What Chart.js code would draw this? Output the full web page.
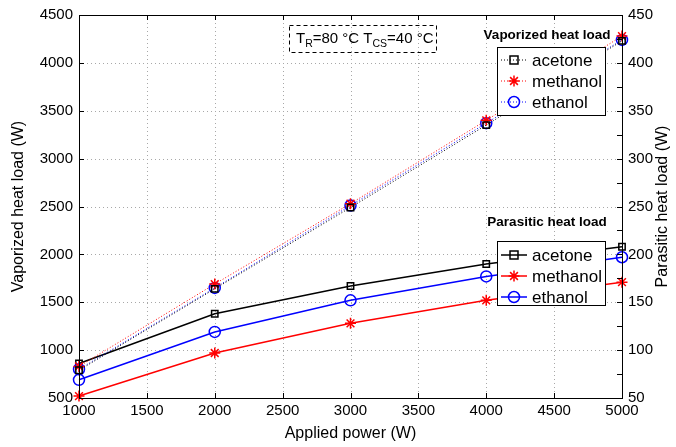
<!DOCTYPE html>
<html>
<head>
<meta charset="utf-8">
<script src="https://cdn.jsdelivr.net/npm/chart.js@4.4.1/dist/chart.umd.min.js"></script>
<style>
  html, body { margin: 0; padding: 0; background: #fff; }
  #wrap { width: 676px; height: 447px; }
</style>
</head>
<body>
<div id="wrap"><canvas id="c" width="676" height="447"></canvas></div>
<script>
// data
const power = [1000, 2000, 3000, 4000, 5000];

// vaporized heat load (left axis, W)
const vapAcetone  = [790, 1640, 2490, 3350, 4230];
const vapMethanol = [830, 1690, 2530, 3400, 4280];
const vapEthanol  = [800, 1650, 2510, 3370, 4240];

// parasitic heat load (right axis, W)
const parAcetone  = [86, 138, 167, 190, 208];
const parMethanol = [52, 97, 128, 152, 171];
const parEthanol  = [69, 119, 152, 177, 197];

const FONT = '"Liberation Sans", Arial, Helvetica, sans-serif';

const pts = arr => arr.map((v, i) => ({ x: power[i], y: v }));

const styles = {
  acetone:  { color: '#000000', point: 'rect',   radius: 4.5 },
  methanol: { color: '#ff0000', point: 'star',   radius: 5.5 },
  ethanol:  { color: '#0000ff', point: 'circle', radius: 5.5 }
};

function ds(label, data, axis, dotted) {
  const s = styles[label];
  return {
    label,
    data: pts(data),
    yAxisID: axis,
    borderColor: s.color,
    backgroundColor: 'transparent',
    borderWidth: dotted ? 1 : 1.5,
    borderDash: dotted ? [1, 2] : [],
    pointStyle: s.point,
    pointRadius: s.radius,
    pointBorderColor: s.color,
    pointBackgroundColor: 'transparent',
    pointBorderWidth: 1.5,
    tension: 0,
    clip: false
  };
}

// dotted grid behind the data
const grid = {
  id: 'grid',
  beforeDatasetsDraw(chart) {
    const { ctx, chartArea: a } = chart;
    const x = chart.scales.x, y = chart.scales.y;
    ctx.save();
    ctx.strokeStyle = '#a8a8a8';
    ctx.lineWidth = 1;
    ctx.setLineDash([1, 3]);
    ctx.beginPath();
    x.ticks.forEach(t => {
      const px = Math.round(x.getPixelForValue(t.value)) + 0.5;
      ctx.moveTo(px, a.top); ctx.lineTo(px, a.bottom);
    });
    y.ticks.forEach(t => {
      const py = Math.round(y.getPixelForValue(t.value)) + 0.5;
      ctx.moveTo(a.left, py); ctx.lineTo(a.right, py);
    });
    ctx.stroke();
    ctx.restore();
  }
};

// draws box, inner ticks, right title, annotation and the two legends
const decorations = {
  id: 'decorations',
  afterDraw(chart) {
    const { ctx, chartArea: a } = chart;
    const x = chart.scales.x, y = chart.scales.y, y2 = chart.scales.y2;
    ctx.save();
    ctx.strokeStyle = '#000';
    ctx.lineWidth = 1;
    ctx.setLineDash([]);
    ctx.strokeRect(a.left + 0.5, a.top + 0.5, a.right - a.left, a.bottom - a.top);

    ctx.beginPath();
    x.ticks.forEach(t => {
      const px = Math.round(x.getPixelForValue(t.value)) + 0.5;
      ctx.moveTo(px, a.bottom); ctx.lineTo(px, a.bottom - 5);
      ctx.moveTo(px, a.top); ctx.lineTo(px, a.top + 5);
    });
    y.ticks.forEach(t => {
      const py = Math.round(y.getPixelForValue(t.value)) + 0.5;
      ctx.moveTo(a.left, py); ctx.lineTo(a.left + 5, py);
    });
    y2.ticks.forEach(t => {
      const py = Math.round(y2.getPixelForValue(t.value)) + 0.5;
      ctx.moveTo(a.right, py); ctx.lineTo(a.right - 5, py);
    });
    ctx.stroke();

    // right axis title, reading bottom to top
    ctx.save();
    ctx.translate(663, (a.top + a.bottom) / 2);
    ctx.rotate(-Math.PI / 2);
    ctx.font = '16px ' + FONT;
    ctx.fillStyle = '#000';
    ctx.textAlign = 'center';
    ctx.textBaseline = 'middle';
    ctx.fillText('Parasitic heat load (W)', 0, 0);
    ctx.restore();

    // annotation box
    ctx.setLineDash([4, 3]);
    ctx.strokeRect(289.5, 25.5, 147, 27);
    ctx.setLineDash([]);
    ctx.fillStyle = '#000';
    ctx.textAlign = 'left';
    ctx.textBaseline = 'alphabetic';
    let cx = 296;
    const base = 43;
    const part = (txt, size, dy) => {
      ctx.font = size + 'px ' + FONT;
      ctx.fillText(txt, cx, base + dy);
      cx += ctx.measureText(txt).width;
    };
    part('T', 15, 0); part('R', 10.5, 4); part('=80 °C T', 15, 0); part('CS', 10.5, 4); part('=40 °C', 15, 0);

    drawLegend(ctx, 'Vaporized heat load', 35, { left: 497, top: 47, right: 605, bottom: 115 }, [60, 81, 102], true);
    drawLegend(ctx, 'Parasitic heat load', 222, { left: 497, top: 241, right: 605, bottom: 305 }, [255, 276, 297], false);
    ctx.restore();
  }
};

function marker(ctx, style, cx, cy) {
  const s = styles[style];
  ctx.strokeStyle = s.color;
  ctx.lineWidth = 1.5;
  ctx.setLineDash([]);
  ctx.beginPath();
  if (style === 'acetone') {
    ctx.rect(cx - 4, cy - 4, 8, 8);
  } else if (style === 'ethanol') {
    ctx.arc(cx, cy, 5.5, 0, Math.PI * 2);
  } else {
    const r = 5.5;
    for (let k = 0; k < 4; k++) {
      const ang = k * Math.PI / 4;
      ctx.moveTo(cx - r * Math.cos(ang), cy - r * Math.sin(ang));
      ctx.lineTo(cx + r * Math.cos(ang), cy + r * Math.sin(ang));
    }
  }
  ctx.stroke();
}

function drawLegend(ctx, title, titleY, box, rows, dotted) {
  ctx.font = 'bold 13.5px ' + FONT;
  ctx.textAlign = 'center';
  ctx.textBaseline = 'middle';
  ctx.fillStyle = '#000';
  ctx.fillText(title, 547, titleY);

  ctx.fillStyle = '#fff';
  ctx.fillRect(box.left, box.top, box.right - box.left, box.bottom - box.top);
  ctx.strokeStyle = '#000';
  ctx.lineWidth = 1;
  ctx.strokeRect(box.left + 0.5, box.top + 0.5, box.right - box.left, box.bottom - box.top);

  ['acetone', 'methanol', 'ethanol'].forEach((name, i) => {
    const ry = rows[i];
    ctx.strokeStyle = styles[name].color;
    ctx.lineWidth = dotted ? 1 : 1.5;
    ctx.setLineDash(dotted ? [1, 2] : []);
    ctx.beginPath();
    ctx.moveTo(501, ry); ctx.lineTo(527, ry);
    ctx.stroke();
    marker(ctx, name, 514, ry);
    ctx.fillStyle = '#000';
    ctx.font = '17px ' + FONT;
    ctx.textAlign = 'left';
    ctx.fillText(name, 532, ry + 1);
  });
}

new Chart(document.getElementById('c'), {
  type: 'line',
  data: {
    datasets: [
      ds('acetone', vapAcetone, 'y', true),
      ds('methanol', vapMethanol, 'y', true),
      ds('ethanol', vapEthanol, 'y', true),
      ds('acetone', parAcetone, 'y2', false),
      ds('methanol', parMethanol, 'y2', false),
      ds('ethanol', parEthanol, 'y2', false)
    ]
  },
  options: {
    responsive: false,
    animation: false,
    layout: { padding: { top: 15, left: 0, right: 0, bottom: 0 } },
    plugins: { legend: { display: false }, tooltip: { enabled: false } },
    scales: {
      x: {
        type: 'linear', min: 1000, max: 5000,
        ticks: { stepSize: 500, color: '#000', font: { family: FONT, size: 15 }, padding: 4, maxRotation: 0, callback: v => String(v) },
        grid: { display: false, drawTicks: false },
        border: { display: false },
        title: { display: true, text: 'Applied power (W)', color: '#000', font: { family: FONT, size: 16 }, padding: { top: 2, bottom: 4 } },
        afterFit: s => { s.height = 49; }
      },
      y: {
        type: 'linear', position: 'left', min: 500, max: 4500,
        ticks: { stepSize: 500, color: '#000', font: { family: FONT, size: 15 }, padding: 6, callback: v => String(v) },
        grid: { display: false, drawTicks: false },
        border: { display: false },
        title: { display: true, text: 'Vaporized heat load (W)', color: '#000', font: { family: FONT, size: 16 }, padding: { top: 9, bottom: 4 } },
        afterFit: s => { s.width = 79; }
      },
      y2: {
        type: 'linear', position: 'right', min: 50, max: 450,
        ticks: {
          stepSize: 25, color: '#000', font: { family: FONT, size: 15 }, padding: 6,
          callback: v => (v % 50 === 0 ? String(v) : '')
        },
        grid: { display: false, drawTicks: false },
        border: { display: false },
        afterFit: s => { s.width = 54; }
      }
    }
  },
  plugins: [grid, decorations]
});
</script>
</body>
</html>
